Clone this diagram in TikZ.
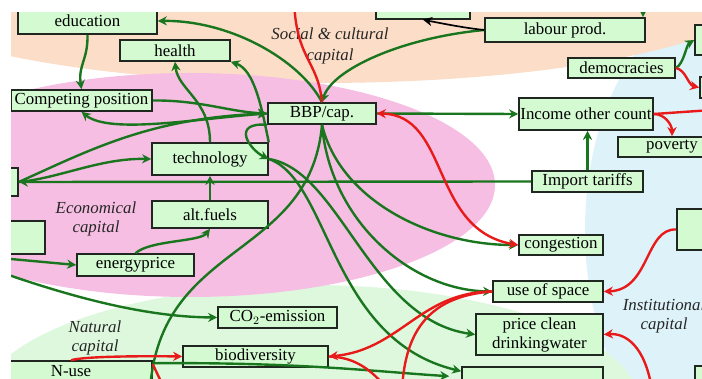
\documentclass[tikz,border=0pt]{standalone}
\usepackage{fontspec}
\setmainfont{Liberation Serif}
\usetikzlibrary{arrows.meta,calc}
\definecolor{bgpeach}{RGB}{251,221,200}
\definecolor{bgpink}{RGB}{246,190,226}
\definecolor{bggreen}{RGB}{222,248,222}
\definecolor{bgblue}{RGB}{222,242,250}
\definecolor{boxfill}{RGB}{212,250,210}
\definecolor{boxline}{RGB}{32,38,32}
\definecolor{linkgreen}{RGB}{26,118,30}
\definecolor{linkred}{RGB}{232,26,26}

\tikzset{
  capbox/.style={draw=boxline,fill=boxfill,line width=1.1pt,inner sep=0pt,
    align=center,font=\fontsize{12}{13.5}\selectfont},
  boxsize/.style 2 args={minimum width=#1*0.025cm,minimum height=#2*0.025cm},
  caplabel/.style={align=center,text=black!85,
    font=\fontsize{12}{13}\selectfont\itshape},
  glink/.style={draw=linkgreen,line width=1.7pt,->},
  gline/.style={draw=linkgreen,line width=1.7pt},
  rlink/.style={draw=linkred,line width=1.7pt,->},
  rline/.style={draw=linkred,line width=1.7pt},
  blink/.style={draw=black,line width=1.2pt,->},
}

\begin{document}
\begin{tikzpicture}[x=0.025cm,y=-0.025cm,>={Stealth[length=6.5pt,width=6.5pt]}]
  \useasboundingbox (0,0) rectangle (702,379);
  \fill[white] (0,0) rectangle (702,379);

  \begin{scope}
  \clip (11,13) rectangle (702,379);

  % --- capital areas ---
  \fill[bgblue] (725,230) ellipse [x radius=140, y radius=230];
  \fill[bgpeach] (320,-15) ellipse [x radius=450, y radius=98];
  \fill[bggreen] (310,405) ellipse [x radius=330, y radius=120];
  \fill[bgpink] (190,185) ellipse [x radius=305, y radius=112];

  \node[caplabel] (soclab) at (330,46) {Social \& cultural\\[2pt]capital};
  \node[caplabel] (ecolab) at (96,219) {Economical\\capital};
  \node[caplabel] (natlab) at (95,338) {Natural\\capital};
  \node[caplabel] (inslab) at (664,316) {Institutional\\capital};

  % --- boxes ---
  \node[capbox,boxsize={139}{26}] (edu) at (87.5,21) {education};
  \node[capbox,boxsize={110}{21}] (health) at (175,50.5) {health};
  \node[capbox,boxsize={141}{21}] (comp) at (81.5,100.5) {Competing position};
  \node[capbox,boxsize={108}{21}] (bbp) at (322,113.5) {BBP/cap.};
  \node[capbox,boxsize={116}{32}] (tech) at (210,159) {technology};
  \node[capbox,boxsize={116}{27}] (alt) at (210,214.5) {alt.fuels};
  \node[capbox,boxsize={117}{22}] (energy) at (135.5,265) {energyprice};
  \node[capbox,boxsize={119}{21}] (co2) at (277.5,317.5) {CO$_2$-emission};
  \node[capbox,boxsize={145}{21}] (bio) at (255.5,356.5) {biodiversity};
  \node[capbox,boxsize={162}{20}] (nuse) at (71,371) {N-use};
  \node[capbox,boxsize={48}{28}] (lbox1) at (-6,182) {};
  \node[capbox,boxsize={75}{33}] (lbox2) at (7.5,237.5) {};

  \node[capbox,boxsize={94}{28}] (topbox) at (423,5) {};
  \node[capbox,boxsize={160}{24}] (labour) at (565,30) {labour prod.};
  \node[capbox,boxsize={44}{30}] (rbA) at (717,40) {};
  \node[capbox,boxsize={107}{20}] (dem) at (621.5,68) {democracies};
  \node[capbox,boxsize={40}{21}] (rbB) at (720,87.5) {};
  \node[capbox,boxsize={134}{32}] (income) at (586,114) {Income other count};
  \node[capbox,boxsize={108}{20}] (poverty) at (672,147) {poverty};
  \node[capbox,boxsize={111}{21}] (tariffs) at (587.5,181.5) {Import tariffs};
  \node[capbox,boxsize={84}{20}] (congest) at (561,245) {congestion};
  \node[capbox,boxsize={62}{41}] (rbC) at (708,229.5) {};
  \node[capbox,boxsize={110}{21}] (space) at (548,291.5) {use of space};
  \node[capbox,boxsize={127}{41}] (price) at (539.5,334.5) {price clean\\drinkingwater};
  \node[capbox,boxsize={141}{36}] (botbox) at (532.5,385) {};
  \node[capbox,boxsize={46}{38}] (rbE) at (718,385) {};

  % free ends outside the frame
  \coordinate (lin1) at (0,258);
  \coordinate (lin2) at (0,272);
  \coordinate (lin3) at (643,0);
  \coordinate (lout1) at (150,390);
  \coordinate (rin1) at (294,0);
  \coordinate (rin2) at (652,390);
  \coordinate (rout1) at (712,110);
  \coordinate (rout2) at (402,390);
  \coordinate (rout3) at (388,390);
  \coordinate (rout4) at (165,390);

  % --- green links ---
  \draw[glink] (bbp.north) .. controls (300,60) and (230,20) .. (edu.east);
  \draw[glink] (labour.west) .. controls (400,38) and (332,70) .. (bbp.north);
  \draw[glink] (lin3) -- (labour.north -| lin3);
  \draw[glink] (edu.south) .. controls (88,60) and (78,65) .. (comp.north);
  \draw[glink] (comp.east) .. controls (200,100) and (230,112) .. (bbp.west);
  \draw[glink] (bbp.west) .. controls (200,118) and (110,135) .. (comp.south);
  \draw[glink] (lbox1.east) .. controls (90,150) and (150,118) .. (bbp.west);
  \draw[glink] (lbox1.east) .. controls (60,178) and (100,158) .. (tech.west);
  \draw[glink] (tariffs.west) -- (lbox1.east);
  \draw[glink] (tariffs.north) -- (tariffs.north |- income.south);
  \draw[glink] (bbp.east) -- (income.west);
  \draw[glink] (tech.north) .. controls (210,100) and (178,90) .. (health.south);
  \draw[glink] (tech.north east) .. controls (262,110) and (255,70) .. (health.south east);
  \draw[glink] (bbp.south west) .. controls (230,122) and (250,150) .. (tech.east);
  \draw[glink] (alt.north) -- (tech.south);
  \draw[glink] (energy.north) .. controls (150,240) and (200,242) .. (alt.south);
  \draw[glink] (lin1) -- (energy.west);
  \draw[glink] (lin2) .. controls (80,300) and (150,317) .. (co2.west);
  \draw[gline] (bbp.south) .. controls (310,260) and (160,240) .. (lout1);
  \foreach \dst/\ax/\ay/\bx/\by in {congest/340/200/430/245, space/330/220/410/290}{
    \draw[glink] (bbp.south) .. controls (\ax,\ay) and (\bx,\by) .. (\dst.west);
  }
  \draw[glink] (tech.east) .. controls (340,170) and (370,320) .. (price.west);
  \draw[glink] (tech.east) .. controls (330,180) and (330,340) .. ($(botbox.north west)+(0,5)$);
  \draw[glink] ($(nuse.north east)+(0,3)$) .. controls (300,362) and (380,372) .. ($(botbox.north west)+(-12,10)$);
  \draw[glink] (dem.east) .. controls (684,64) and (686,45) .. (rbA.west);

  % --- black link ---
  \draw[blink] (labour.west) .. controls (465,28) and (445,24) .. (topbox.south);

  % --- red links ---
  \draw[rline] (rin1) .. controls (296,60) and (318,60) .. (bbp.north);
  \draw[rlink,<->] (bbp.east) .. controls (450,115) and (430,230) .. (congest.west);
  \draw[rlink] (income.east) .. controls (665,114) and (672,125) .. (poverty.north);
  \draw[rline] (income.east) -- (rout1);
  \draw[rlink] (dem.east) .. controls (686,70) and (688,85) .. (rbB.west);
  \draw[rlink] (rbC.west) .. controls (645,228) and (650,290) .. (space.east);
  \draw[rlink] (rin2) .. controls (645,345) and (625,333) .. (price.east);
  \draw[rlink] (space.west) .. controls (420,292) and (400,350) .. (bio.east);
  \draw[rline] (space.west) .. controls (430,296) and (405,330) .. (rout2);
  \draw[rline] (bio.east) .. controls (355,357) and (372,370) .. (rout3);
  \draw[rlink] (nuse.north) .. controls (85,356) and (150,356) .. (bio.west);
  \draw[rline] ($(nuse.north east)+(0,4)$) -- (rout4);
  \end{scope}
\end{tikzpicture}
\end{document}
